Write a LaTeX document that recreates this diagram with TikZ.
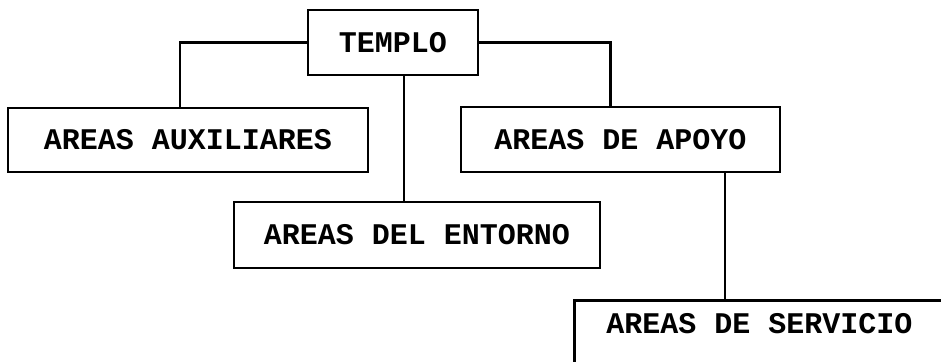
\documentclass[tikz,border=0pt]{standalone}
\usepackage{fontspec}
\setmonofont{Liberation Mono}
\begin{document}
\begin{tikzpicture}[x=1pt,y=-1pt,
    caja/.style={draw,line width=2.8pt,inner sep=0pt,
      font=\ttfamily\bfseries\fontsize{30}{30}\selectfont},
    enlace/.style={line width=2.8pt}]
    \useasboundingbox (0,0) rectangle (941,361);
    \clip (0,0) rectangle (941,361);
    % cajas
    \node[caja,minimum width=170pt,minimum height=65pt] (templo) at (393,42.5) {TEMPLO};
    \node[caja,minimum width=360pt,minimum height=64pt] (aux) at (188,140) {AREAS AUXILIARES};
    \node[caja,minimum width=319pt,minimum height=65pt] (apoyo) at (620.5,139.5) {AREAS DE APOYO};
    \node[caja,minimum width=366pt,minimum height=66pt] (entorno) at (417,235) {AREAS DEL ENTORNO};
    \node[caja,anchor=north west,inner xsep=32pt,inner ysep=16pt,
      text height=17pt,text depth=60pt] (servicio) at (573,299)
      {\makebox[340pt][l]{AREAS DE SERVICIO}};
    % lineas
    \coordinate (bajada) at (404,0); \coordinate (rama) at (725,0);
    \draw[enlace] (templo.west) -| ([xshift=-8pt]aux.north);
    \draw[enlace] (templo.east) -| ([xshift=-10pt]apoyo.north);
    \draw[enlace] (templo.south -| bajada) -- (entorno.north -| bajada);
    \draw[enlace] (apoyo.south -| rama) -- (servicio.north -| rama);
\end{tikzpicture}
\end{document}
